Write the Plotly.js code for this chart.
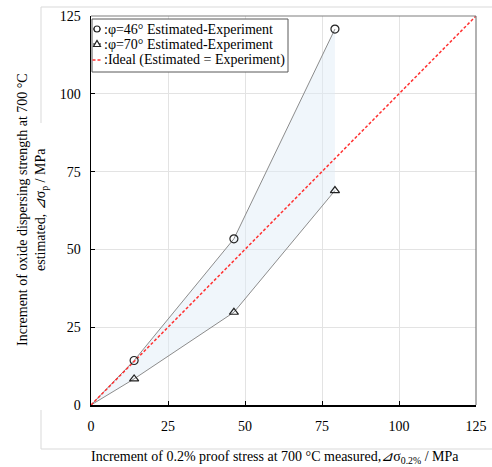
<!DOCTYPE html>
<html>
<head>
<meta charset="utf-8">
<script src="https://cdn.plot.ly/plotly-3.0.1.min.js"></script>
<style>html,body{margin:0;padding:0;background:#fff;}#chart{width:492px;height:467px;}</style>
</head>
<body>
<div id="chart"></div>
<script>
// Data
var measured = [0, 14.0, 46.4, 79.2];
var estPhi46 = [0, 14.3, 53.4, 120.8];
var estPhi70 = [0, 8.4, 29.8, 68.9];
var idealX = [0, 125];
var idealY = [0, 125];
var tickVals = [0, 25, 50, 75, 100, 125];
var legendLabels = [':φ=46° Estimated-Experiment', ':φ=70° Estimated-Experiment', ':Ideal (Estimated = Experiment)'];

var FONT = 'Liberation Serif, Times New Roman, serif';
// pixel -> paper helpers (plot area: x 91..476, y 16..405)
var L = 91, R = 476, T = 16, B = 405;
function px(x) { return (x - L) / (R - L); }
function py(y) { return (B - y) / (B - T); }

var traces = [
  {x: measured, y: estPhi70, type: 'scatter', mode: 'lines', line: {color: '#8c8c8c', width: 1}, hoverinfo: 'skip', showlegend: false},
  {x: measured, y: estPhi46, type: 'scatter', mode: 'lines', line: {color: '#8c8c8c', width: 1}, fill: 'tonexty', fillcolor: 'rgba(222,235,247,0.45)', hoverinfo: 'skip', showlegend: false},
  {x: idealX, y: idealY, type: 'scatter', mode: 'lines', line: {color: '#ff3030', width: 1.5, dash: '3px,2px'}, showlegend: false},
  {x: measured.slice(1), y: estPhi46.slice(1), type: 'scatter', mode: 'markers', marker: {symbol: 'circle-open', size: 8, color: '#222', line: {width: 1.2}}, showlegend: false},
  {x: measured.slice(1), y: estPhi70.slice(1), type: 'scatter', mode: 'markers', marker: {symbol: 'triangle-up-open', size: 8, color: '#222', line: {width: 1.2}}, showlegend: false}
];

var frameColor = '#d9d9d9';
var shapes = [
  // outer chart frame
  {type: 'line', xref: 'paper', yref: 'paper', x0: px(41), x1: px(520), y0: py(7), y1: py(7), line: {color: frameColor, width: 1}},
  {type: 'line', xref: 'paper', yref: 'paper', x0: px(41), x1: px(520), y0: py(449), y1: py(449), line: {color: frameColor, width: 1}},
  {type: 'line', xref: 'paper', yref: 'paper', x0: px(41), x1: px(41), y0: py(7), y1: py(123), line: {color: frameColor, width: 1}},
  {type: 'line', xref: 'paper', yref: 'paper', x0: px(41), x1: px(41), y0: py(410), y1: py(449), line: {color: frameColor, width: 1}},
  // top & right plot border (gray)
  {type: 'line', xref: 'paper', yref: 'paper', x0: 0, x1: 1, y0: 1, y1: 1, line: {color: '#7f7f7f', width: 1.2}},
  {type: 'line', xref: 'paper', yref: 'paper', x0: 1, x1: 1, y0: 0, y1: 1, line: {color: '#7f7f7f', width: 1.2}},
  // legend box
  {type: 'rect', xref: 'x2', yref: 'y2', x0: 92, x1: 288, y0: 19, y1: 72, line: {color: '#595959', width: 1}, fillcolor: '#ffffff', layer: 'above'},
  {type: 'line', xref: 'x2', yref: 'y2', x0: 93, x1: 101, y0: 29, y1: 29, line: {color: '#222', width: 1}, layer: 'above'},
  {type: 'line', xref: 'x2', yref: 'y2', x0: 93, x1: 101, y0: 44, y1: 44, line: {color: '#222', width: 1}, layer: 'above'},
  {type: 'line', xref: 'x2', yref: 'y2', x0: 92.5, x1: 101, y0: 60, y1: 60, line: {color: '#ff3030', width: 1.5, dash: '3px,2px'}, layer: 'above'},
  {type: 'circle', xref: 'x2', yref: 'y2', xsizemode: 'pixel', ysizemode: 'pixel', xanchor: 97, yanchor: 29, x0: -3, x1: 3, y0: -3, y1: 3,
   line: {color: '#222', width: 1.2}, fillcolor: '#ffffff', layer: 'above'},
  {type: 'path', xref: 'x2', yref: 'y2', xsizemode: 'pixel', ysizemode: 'pixel', xanchor: 97, yanchor: 44,
   path: 'M-3.5,-2.5 L3.5,-2.5 L0,3.5 Z', line: {color: '#222', width: 1.2}, fillcolor: '#ffffff', layer: 'above'}
];

var annotations = [
  {xref: 'x2', yref: 'y2', x: 102, y: 29, xanchor: 'left', yanchor: 'middle', text: legendLabels[0], showarrow: false, font: {family: FONT, size: 14, color: '#000'}},
  {xref: 'x2', yref: 'y2', x: 102, y: 44, xanchor: 'left', yanchor: 'middle', text: legendLabels[1], showarrow: false, font: {family: FONT, size: 14, color: '#000'}},
  {xref: 'x2', yref: 'y2', x: 102, y: 60, xanchor: 'left', yanchor: 'middle', text: legendLabels[2], showarrow: false, font: {family: FONT, size: 14, color: '#000'}},
  {xref: 'paper', yref: 'paper', x: px(275), y: py(458), xanchor: 'center', yanchor: 'middle', showarrow: false,
   text: 'Increment of 0.2% proof stress at 700 °C measured,<i>⊿</i>σ<sub>0.2%</sub> / MPa', font: {family: FONT, size: 14, color: '#000'}},
  {xref: 'paper', yref: 'paper', x: px(22), y: py(210), xanchor: 'center', yanchor: 'middle', showarrow: false, textangle: -90,
   text: 'Increment of oxide dispersing strength at 700 °C', font: {family: FONT, size: 14, color: '#000'}},
  {xref: 'paper', yref: 'paper', x: px(41), y: py(210), xanchor: 'center', yanchor: 'middle', showarrow: false, textangle: -90,
   text: 'estimated, <i>⊿</i>σ<sub>p</sub> / MPa', font: {family: FONT, size: 14, color: '#000'}}
];

var axisCommon = {
  range: [0, 125], tickvals: tickVals, ticktext: tickVals.map(String), showgrid: true, gridcolor: '#e3e3e3', gridwidth: 1,
  zeroline: false, showline: true, linecolor: '#000', linewidth: 1.5, ticks: 'inside', ticklen: 4, tickcolor: '#000', tickwidth: 1,
  tickfont: {family: FONT, size: 14, color: '#000'}, fixedrange: true
};

var layout = {
  width: 492, height: 467,
  margin: {l: L, r: 492 - R, t: T, b: 467 - B, pad: 0},
  paper_bgcolor: '#fff', plot_bgcolor: '#fff',
  showlegend: false,
  font: {family: FONT, size: 14, color: '#000'},
  xaxis: Object.assign({}, axisCommon, {ticklabelstandoff: 8}),
  yaxis: Object.assign({}, axisCommon, {ticklabelstandoff: 6}),
  xaxis2: {overlaying: 'x', range: [L, R], visible: false, fixedrange: true},
  yaxis2: {overlaying: 'y', range: [B, T], visible: false, fixedrange: true},
  shapes: shapes,
  annotations: annotations
};

Plotly.newPlot('chart', traces, layout, {displayModeBar: false, staticPlot: true});
</script>
</body>
</html>
